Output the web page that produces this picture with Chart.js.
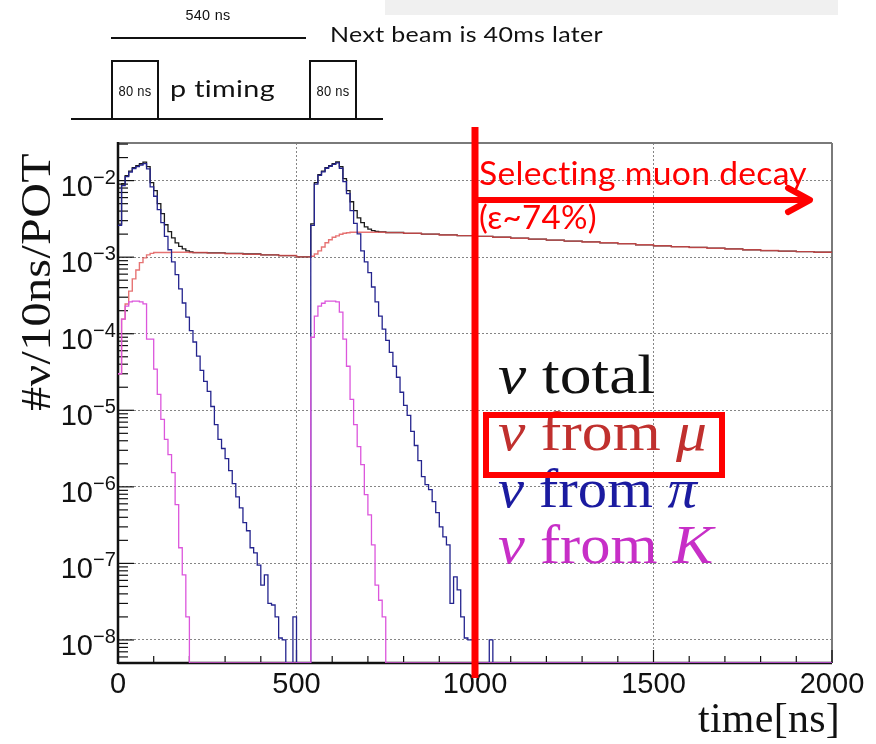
<!DOCTYPE html>
<html>
<head>
<meta charset="utf-8">
<script src="https://cdn.jsdelivr.net/npm/chart.js@4.4.1/dist/chart.umd.min.js"></script>
<style>
  html, body { margin: 0; padding: 0; background: #fff; }
  canvas { display: block; }
</style>
</head>
<body>
<canvas id="timing" width="876" height="744"></canvas>
<script>
// bins are [left edge in ns, neutrinos per 10 ns per POT]
const kaonBins = [
  [0,3.0e-5],[10,1.55e-4],[20,2.3e-4],[30,2.6e-4],[40,2.67e-4],[50,2.67e-4],[60,2.6e-4],[70,2.45e-4],
  [80,8.5e-5],[90,8.5e-5],[100,3.44e-5],[110,1.61e-5],[120,7.6e-6],[130,4.16e-6],[140,2.64e-6],
  [150,1.53e-6],[160,5.85e-7],[170,1.6e-7],[180,7.1e-8],[190,2.0e-8],[200,0],
  [540,9e-5],[550,1.7e-4],[560,2.3e-4],[570,2.5e-4],[580,2.67e-4],[590,2.67e-4],[600,2.67e-4],
  [610,2.6e-4],[620,1.92e-4],[630,8.5e-5],[640,3.76e-5],[650,1.39e-5],[660,6.5e-6],[670,3.36e-6],
  [680,1.95e-6],[690,7.9e-7],[700,4.3e-7],[710,1.75e-7],[720,5.2e-8],[730,3.3e-8],[740,2.0e-8],
  [750,0],[2000,0]
];

const pionBins = [
  [0,2.6e-3],[10,8.6e-3],[20,1.13e-2],[30,1.29e-2],[40,1.44e-2],[50,1.52e-2],[60,1.6e-2],[70,1.67e-2],
  [80,1.42e-2],[90,8.3e-3],[100,6.25e-3],[110,4.17e-3],[120,2.82e-3],[130,1.87e-3],[140,1.25e-3],
  [150,8.7e-4],[160,5.9e-4],[170,3.85e-4],[180,2.52e-4],[190,1.65e-4],[200,1.1e-4],[210,7.8e-5],
  [220,5.1e-5],[230,3.33e-5],[240,2.39e-5],[250,1.77e-5],[260,1.12e-5],[270,6.5e-6],[280,4.16e-6],
  [290,3.17e-6],[300,2.34e-6],[310,1.63e-6],[320,1.1e-6],[330,7.4e-7],[340,5.3e-7],[350,3.4e-7],
  [360,2.67e-7],[370,1.6e-7],[380,1.37e-7],[390,9.5e-8],[400,5.2e-8],[410,7.1e-8],[420,3.0e-8],
  [430,2.86e-8],[440,2.0e-8],[450,1.06e-8],[460,1.0e-8],[470,0],[490,2.0e-8],[500,0],
  [540,2.6e-3],[550,9.0e-3],[560,1.17e-2],[570,1.3e-2],[580,1.45e-2],[590,1.54e-2],[600,1.63e-2],
  [610,1.7e-2],[620,1.45e-2],[630,9.7e-3],[640,6.76e-3],[650,4.05e-3],[660,2.77e-3],[670,2.02e-3],
  [680,1.21e-3],[690,8.7e-4],[700,6.3e-4],[710,4.08e-4],[720,2.6e-4],[730,1.7e-4],[740,1.15e-4],
  [750,8.2e-5],[760,5.7e-5],[770,3.76e-5],[780,2.7e-5],[790,1.72e-5],[800,1.16e-5],[810,8.6e-6],
  [820,5.3e-6],[830,3.47e-6],[840,2.2e-6],[850,1.36e-6],[860,1.07e-6],[870,9.2e-7],[880,6.4e-7],
  [890,4.6e-7],[900,3.0e-7],[910,2.22e-7],[920,1.75e-7],[930,3.0e-8],[940,6.65e-8],[950,4.5e-8],
  [960,2.0e-8],[970,1.06e-8],[980,1.0e-8],[990,1.0e-8],[1000,0],[1040,1.0e-8],[1050,0],[2000,0]
];

const muonBins = [
  [0,3.0e-5],[10,1.55e-4],[20,2.45e-4],[30,3.6e-4],[40,5.2e-4],[50,6.8e-4],[60,8.5e-4],[70,9.8e-4],
  [80,1.07e-3],[90,1.12e-3],[100,1.15e-3],[150,1.16e-3],[200,1.15e-3],[250,1.13e-3],[300,1.11e-3],
  [350,1.09e-3],[400,1.07e-3],[450,1.05e-3],[500,1.01e-3],
  [540,1.03e-3],[550,1.1e-3],[560,1.21e-3],[570,1.36e-3],[580,1.54e-3],[590,1.69e-3],[600,1.82e-3],
  [610,1.9e-3],[620,1.99e-3],[630,2.05e-3],[640,2.08e-3],[650,2.12e-3],[700,2.12e-3],[750,2.09e-3],
  [800,2.05e-3],[850,2.0e-3],[900,1.95e-3],[950,1.91e-3],[1000,1.87e-3],[1050,1.82e-3],[1100,1.77e-3],
  [1150,1.72e-3],[1200,1.67e-3],[1250,1.62e-3],[1300,1.58e-3],[1350,1.54e-3],[1400,1.5e-3],
  [1450,1.45e-3],[1500,1.41e-3],[1550,1.37e-3],[1600,1.34e-3],[1650,1.31e-3],[1700,1.28e-3],
  [1750,1.25e-3],[1800,1.22e-3],[1850,1.2e-3],[1900,1.18e-3],[1950,1.16e-3],[2000,1.14e-3]
];

const totalBins = [
  [0,2.7e-3],[10,9.1e-3],[20,1.16e-2],[30,1.33e-2],[40,1.48e-2],[50,1.57e-2],[60,1.66e-2],[70,1.74e-2],
  [80,1.52e-2],[90,9.4e-3],[100,7.4e-3],[110,5.0e-3],[120,3.7e-3],[130,2.65e-3],[140,2.15e-3],
  [150,1.79e-3],[160,1.54e-3],[170,1.38e-3],[180,1.28e-3],[190,1.21e-3],[200,1.17e-3],[210,1.15e-3],
  [250,1.14e-3],[300,1.12e-3],[350,1.1e-3],[400,1.07e-3],[450,1.05e-3],[500,1.01e-3],
  [540,2.73e-3],[550,9.4e-3],[560,1.2e-2],[570,1.33e-2],[580,1.48e-2],[590,1.57e-2],[600,1.67e-2],
  [610,1.75e-2],[620,1.52e-2],[630,1.06e-2],[640,7.4e-3],[650,5.3e-3],[660,4.05e-3],[670,3.27e-3],
  [680,2.82e-3],[690,2.49e-3],[700,2.32e-3],[710,2.22e-3],[720,2.17e-3],[730,2.14e-3],[750,2.1e-3],
  [800,2.05e-3],[850,2.0e-3],[900,1.95e-3],[950,1.91e-3],[1000,1.87e-3],[1050,1.82e-3],[1100,1.77e-3],
  [1150,1.72e-3],[1200,1.67e-3],[1250,1.62e-3],[1300,1.58e-3],[1350,1.54e-3],[1400,1.5e-3],
  [1450,1.45e-3],[1500,1.41e-3],[1550,1.37e-3],[1600,1.34e-3],[1650,1.31e-3],[1700,1.28e-3],
  [1750,1.25e-3],[1800,1.22e-3],[1850,1.2e-3],[1900,1.18e-3],[1950,1.16e-3],[2000,1.14e-3]
];

const xTickValues = [0, 500, 1000, 1500, 2000];
const xTickLabels = ['0', '500', '1000', '1500', '2000'];
const yTickValues = [1e-8, 1e-7, 1e-6, 1e-5, 1e-4, 1e-3, 1e-2];
const yTickExponents = ['\u22128', '\u22127', '\u22126', '\u22125', '\u22124', '\u22123', '\u22122'];

const Y_MIN = 5e-9;
const Y_MAX = 3.1e-2;

const SANS = '"Liberation Sans", Arial, sans-serif';
const SERIF = '"Liberation Serif", "DejaVu Serif", serif';
const CALI = 'Lato, "Open Sans", sans-serif';

// empty bins sit on the axis floor, like ROOT draws them on a log axis
function toPoints(bins) {
  return bins.map(b => ({ x: b[0], y: b[1] > 0 ? b[1] : Y_MIN }));
}

function line(ctx, x1, y1, x2, y2) {
  ctx.beginPath();
  ctx.moveTo(x1, y1);
  ctx.lineTo(x2, y2);
  ctx.stroke();
}

// draw text squeezed/stretched horizontally to a given width
function drawFit(ctx, text, x, y, font, width, align) {
  ctx.save();
  ctx.font = font;
  // a hair of spacing keeps Lato from forming "ti"/"fi" ligatures
  if ('letterSpacing' in ctx) ctx.letterSpacing = '0.3px';
  const w = ctx.measureText(text).width;
  const left = align === 'center' ? x - width / 2 : (align === 'right' ? x - width : x);
  ctx.translate(left, y);
  ctx.scale(width / w, 1);
  ctx.textAlign = 'left';
  ctx.fillText(text, 0, 0);
  ctx.restore();
}

// legend entry with italic / roman pieces
function drawMixed(ctx, parts, x, y, size, width, color) {
  const fontOf = p => (p[1] ? 'italic ' : '') + size + 'px ' + SERIF;
  let total = 0;
  parts.forEach(p => { ctx.font = fontOf(p); total += ctx.measureText(p[0]).width; });
  ctx.save();
  ctx.translate(x, y);
  ctx.scale(width / total, 1);
  ctx.fillStyle = color;
  ctx.textAlign = 'left';
  let cx = 0;
  parts.forEach(p => {
    ctx.font = fontOf(p);
    ctx.fillText(p[0], cx, 0);
    cx += ctx.measureText(p[0]).width;
  });
  ctx.restore();
}

const rootFrame = {
  id: 'rootFrame',
  beforeDatasetsDraw(chart) {
    const { ctx, chartArea: a, scales: { x, y } } = chart;
    ctx.save();
    // ROOT style frame: grey top/right, black left/bottom
    ctx.strokeStyle = '#7a7a7a';
    ctx.lineWidth = 2;
    line(ctx, a.left, a.top, a.right, a.top);
    line(ctx, a.right, a.top, a.right, a.bottom);
    ctx.strokeStyle = '#111';
    ctx.lineWidth = 2.5;
    line(ctx, a.left, a.top - 1, a.left, a.bottom + 1);
    line(ctx, a.left, a.bottom, a.right, a.bottom);

    // inner tick marks
    ctx.lineWidth = 1.2;
    for (let t = 0; t <= 2000; t += 100) {
      const px = x.getPixelForValue(t);
      line(ctx, px, a.bottom, px, a.bottom - (t % 500 === 0 ? 13 : 7));
    }
    for (let n = -9; n <= -1; n++) {
      for (let k = 1; k <= 9; k++) {
        const v = k * Math.pow(10, n);
        if (v < y.min || v > y.max) continue;
        const py = y.getPixelForValue(v);
        line(ctx, a.left, py, a.left + (k === 1 ? 16 : 10), py);
      }
    }
    ctx.restore();
  },
  afterDraw(chart) {
    const { ctx, chartArea: a, scales: { x, y } } = chart;
    ctx.save();
    ctx.fillStyle = '#111';
    ctx.textBaseline = 'alphabetic';

    // y tick labels 10^n
    yTickValues.forEach((v, i) => {
      const py = y.getPixelForValue(v);
      ctx.font = '29px ' + SANS;
      ctx.textAlign = 'right';
      ctx.fillText('10', 93, py + 15);
      ctx.font = '20px ' + SANS;
      ctx.textAlign = 'left';
      ctx.fillText(yTickExponents[i], 93, py + 3);
    });

    // x tick labels
    ctx.font = '29px ' + SANS;
    ctx.textAlign = 'center';
    xTickValues.forEach((v, i) => {
      ctx.fillText(xTickLabels[i], x.getPixelForValue(v), a.bottom + 30);
    });

    // axis titles
    ctx.save();
    ctx.translate(50, 282);
    ctx.rotate(-Math.PI / 2);
    drawFit(ctx, '#\u03bd/10ns/POT', 0, 0, '42px ' + SERIF, 258, 'center');
    ctx.restore();
    drawFit(ctx, 'time[ns]', 840, 732, '43px ' + SERIF, 142, 'right');

    // legend
    drawMixed(ctx, [['\u03bd', 1], [' total', 0]], 498, 393, 55, 157, '#111');
    drawMixed(ctx, [['\u03bd', 1], [' from ', 0], ['\u03bc', 1]], 498, 450, 55, 209, '#c0302e');
    drawMixed(ctx, [['\u03bd', 1], [' from ', 0], ['\u03c0', 1]], 498, 507, 55, 199, '#1b1ba0');
    drawMixed(ctx, [['\u03bd', 1], [' from ', 0], ['K', 1]], 498, 563, 55, 215, '#c72fc7');

    // selection annotation
    const xs = x.getPixelForValue(1000);
    ctx.strokeStyle = '#ff0000';
    ctx.fillStyle = '#ff0000';
    ctx.lineWidth = 7;
    line(ctx, xs, 127, xs, 678);
    ctx.lineWidth = 6;
    line(ctx, xs, 200, 806, 200);
    ctx.lineCap = 'round';
    ctx.lineJoin = 'round';
    ctx.beginPath();
    ctx.moveTo(788, 188);
    ctx.lineTo(810, 200);
    ctx.lineTo(788, 212);
    ctx.stroke();
    ctx.lineCap = 'butt';
    ctx.lineJoin = 'miter';
    ctx.strokeRect(486, 415, 236, 60);
    drawFit(ctx, 'Selecting muon decay', 479, 185, '32px ' + CALI, 328, 'left');
    drawFit(ctx, '(\u03b5~74%)', 479, 229, '32px ' + CALI, 118, 'left');

    // beam timing sketch above the plot
    ctx.fillStyle = '#f0f0f0';
    ctx.fillRect(385, 0, 453, 15);
    ctx.fillStyle = '#111';
    ctx.strokeStyle = '#111';
    ctx.lineWidth = 2;
    line(ctx, 111, 38, 306, 38);
    line(ctx, 71, 119, 383, 119);
    ctx.beginPath();
    ctx.moveTo(112, 119); ctx.lineTo(112, 61); ctx.lineTo(158, 61); ctx.lineTo(158, 119);
    ctx.moveTo(310, 119); ctx.lineTo(310, 61); ctx.lineTo(356, 61); ctx.lineTo(356, 119);
    ctx.stroke();
    drawFit(ctx, '540 ns', 208, 20, '15px ' + SANS, 45, 'center');
    drawFit(ctx, '80 ns', 135, 96, '14px ' + SANS, 33, 'center');
    drawFit(ctx, '80 ns', 333, 96, '14px ' + SANS, 33, 'center');
    drawFit(ctx, 'p timing', 170, 97, '24px ' + CALI, 105, 'left');
    drawFit(ctx, 'Next beam is 40ms later', 330, 42, '22px ' + CALI, 273, 'left');
    ctx.restore();
  }
};

const hist = (label, bins, color, width) => ({
  label: label,
  data: toPoints(bins),
  borderColor: color,
  borderWidth: width,
  stepped: 'before',
  pointRadius: 0,
  fill: false,
  tension: 0
});

new Chart(document.getElementById('timing'), {
  type: 'line',
  data: {
    datasets: [
      hist('\u03bd from K', kaonBins, '#dc56dc', 1.3),
      hist('\u03bd from \u03c0', pionBins, '#24248e', 1.3),
      hist('\u03bd from \u03bc', muonBins, 'rgba(224, 80, 80, 0.8)', 1.4),
      hist('\u03bd total', totalBins, '#1a1a1a', 1.3)
    ]
  },
  options: {
    responsive: false,
    animation: false,
    devicePixelRatio: 1,
    layout: { padding: { left: 118, right: 44, top: 143, bottom: 81 } },
    plugins: { legend: { display: false }, tooltip: { enabled: false } },
    scales: {
      x: {
        type: 'linear',
        min: 0,
        max: 2000,
        ticks: { display: false, stepSize: 500 },
        grid: {
          drawTicks: false,
          lineWidth: 1,
          color: c => (c.tick && (c.tick.value === 0 || c.tick.value === 2000)) ? 'rgba(0,0,0,0)' : '#858585'
        },
        border: { display: false, dash: [2, 2] }
      },
      y: {
        type: 'logarithmic',
        min: Y_MIN,
        max: Y_MAX,
        afterBuildTicks: scale => { scale.ticks = yTickValues.map(v => ({ value: v })); },
        ticks: { display: false },
        grid: { drawTicks: false, lineWidth: 1, color: '#858585' },
        border: { display: false, dash: [2, 2] }
      }
    }
  },
  plugins: [rootFrame]
});
</script>
</body>
</html>
